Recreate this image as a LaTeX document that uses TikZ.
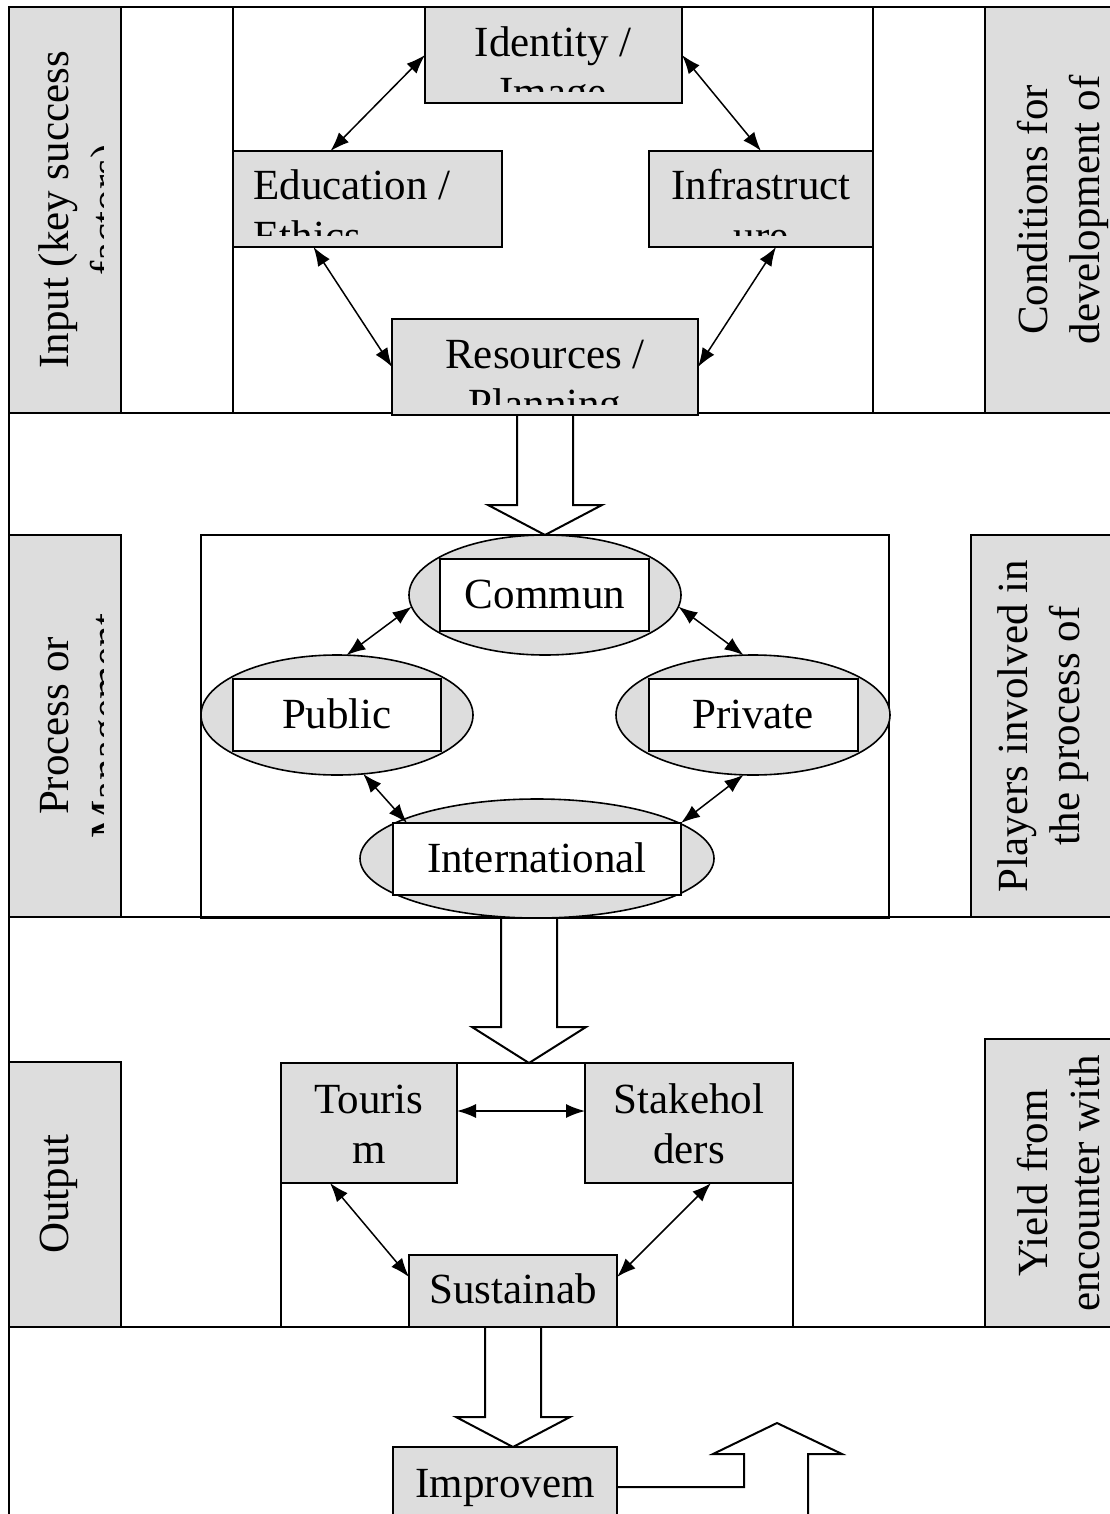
\documentclass[tikz,border=0pt]{standalone}
\usepackage{fontspec}
\setmainfont{Liberation Serif}
\usetikzlibrary{arrows.meta,shapes.geometric,fit}
\definecolor{boxgrey}{RGB}{221,221,221}
\newcommand{\twolines}[5]{
  \node[txt] (#1a) at (#2,#3) {#4};
  \node[txt] (#1b) at (#2,#3+50) {#5};
}
\newcommand{\sidelines}[5]{
  \node[txt, rotate=90] (#1a) at (#2,#3) {#4};
  \node[txt, rotate=90] (#1b) at (#2+52,#3) {#5};
}
\newcommand{\hollowdown}[4]{
  \draw[bigarrow] (#1-28,#2) -- (#1-28,#3) -- (#1-57,#3) -- (#1,#4)
    -- (#1+57,#3) -- (#1+28,#3) -- (#1+28,#2);
}

\begin{document}
\begin{tikzpicture}[x=0.5pt, y=-0.5pt,
  panel/.style={draw, line width=1pt},
  greybox/.style={draw, fill=boxgrey, line width=1pt, inner sep=0pt, outer sep=0pt},
  whitebox/.style={draw, fill=white, line width=1pt, inner sep=0pt, outer sep=0pt},
  blob/.style={ellipse, draw, fill=boxgrey, line width=0.8pt, inner sep=0pt, outer sep=0pt},
  txt/.style={anchor=base, inner sep=0pt, font=\fontsize{21.5}{26}\selectfont},
  link/.style={{Latex[length=9.5pt,width=7pt]}-{Latex[length=9.5pt,width=7pt]}, line width=0.75pt},
  bigarrow/.style={line width=1pt, line join=miter}]
  \useasboundingbox (0,0) rectangle (1109,1514);

  % frames
  \draw[panel] (1114,7) -- (9,7) -- (9,1520);
  \foreach \y in {413,917,1327}
    \draw[panel] (9,\y) -- (1114,\y);
  \draw[panel] (233,7) rectangle (873,413);
  \draw[panel] (201,535) rectangle (889,918);
  \draw[panel] (281,1327) -- (281,1063) -- (793,1063) -- (793,1327);

  % side labels
  \node[greybox, fit={(9,7) (121,413)}] (inbox) {};
  \node[greybox, fit={(9,535) (121,917)}] (procbox) {};
  \node[greybox, fit={(9,1062) (121,1327)}] (outbox) {};
  \node[greybox, fit={(985,7) (1114,413)}] (condbox) {};
  \node[greybox, fit={(971,535) (1114,917)}] (playbox) {};
  \node[greybox, fit={(985,1039) (1114,1327)}] (yieldbox) {};
  \begin{scope}
    \clip (0,0) rectangle (103,413);
    \sidelines{inp}{68}{210}{Input (key success}{factors)}
  \end{scope}
  \begin{scope}
    \clip (0,535) rectangle (103,917);
    \sidelines{proc}{68}{726}{Process or}{Management}
  \end{scope}
  \node[txt, rotate=90] (outtxt) at (68,1194) {Output};
  \sidelines{cond}{1047}{210}{Conditions for}{development of}
  \sidelines{play}{1027}{726}{Players involved in}{the process of}
  \sidelines{yield}{1047}{1183}{Yield from}{encounter with}

  % input
  \node[greybox, fit={(425,7) (682,103)}] (ident) {};
  \node[greybox, fit={(233,151) (502,247)}] (educ) {};
  \node[greybox, fit={(649,151) (873,247)}] (infra) {};
  \node[greybox, fit={(392,319) (698,415)}] (resrc) {};
  \begin{scope}
    \clip (425,7) rectangle (682,92);
    \twolines{ident}{553}{57}{Identity /}{Image}
  \end{scope}
  \begin{scope}
    \clip (233,151) rectangle (502,236);
    \node[txt, anchor=base west] (educa) at (253,200) {Education /};
    \node[txt, anchor=base west] (educb) at (253,250) {Ethics};
  \end{scope}
  \begin{scope}
    \clip (649,151) rectangle (873,236);
    \twolines{infra}{761}{200}{Infrastruct}{ure}
  \end{scope}
  \begin{scope}
    \clip (392,319) rectangle (698,404);
    \twolines{resrc}{545}{368}{Resources /}{Planning}
  \end{scope}
  \draw[link] (ident.west) -- ([xshift=-18.5pt]educ.north);
  \draw[link] (ident.east) -- (infra.north);
  \draw[link] ([xshift=-27pt]educ.south) -- (resrc.west);
  \draw[link] ([xshift=7.5pt]infra.south) -- (resrc.east);
  \hollowdown{545}{415}{505}{535}

  % players
  \node[blob, minimum width=136pt, minimum height=60pt] (commun) at (545,595) {};
  \node[blob, minimum width=136pt, minimum height=60pt] (public) at (337,715) {};
  \node[blob, minimum width=137pt, minimum height=60pt] (private) at (753,715) {};
  \node[blob, minimum width=177pt, minimum height=59.5pt] (intl) at (537,858.5) {};
  \node[whitebox, fit={(440,559) (649,631)}] (commbox) {};
  \node[whitebox, fit={(233,679) (441,751)}] (pubbox) {};
  \node[whitebox, fit={(649,679) (858,751)}] (privbox) {};
  \node[whitebox, fit={(393,823) (681,895)}] (intlbox) {};
  \node[txt] (commtxt) at (545,608) {Commun};
  \node[txt] (pubtxt) at (337,728) {Public};
  \node[txt] (privtxt) at (753,728) {Private};
  \node[txt] (intltxt) at (537,872) {International};
  \draw[link] (commun.185) -- (public.81);
  \draw[link] (commun.-5) -- (private.99);
  \draw[link] (public.-66) -- ([xshift=7pt]intlbox.north west);
  \draw[link] (private.-99) -- (intlbox.north east);
  \hollowdown{529}{918}{1027}{1063}

  % output
  \node[greybox, fit={(281,1063) (457,1183)}] (tour) {};
  \node[greybox, fit={(585,1063) (793,1183)}] (stake) {};
  \node[greybox, fit={(409,1255) (617,1327)}] (sust) {};
  \twolines{tour}{369}{1113}{Touris}{m}
  \twolines{stake}{689}{1113}{Stakehol}{ders}
  \node[txt] (susttxt) at (513,1303) {Sustainab};
  \draw[link] ([yshift=6pt]tour.east) -- ([yshift=6pt]stake.west);
  \draw[link] ([xshift=-19.5pt]tour.south) -- ([yshift=7pt]sust.west);
  \draw[link] ([xshift=11pt]stake.south) -- ([yshift=7pt]sust.east);
  \hollowdown{513}{1327}{1417}{1447}

  % feedback
  \node[greybox, fit={(393,1447) (617,1527)}] (improv) {};
  \node[txt] (improvtxt) at (505,1497) {Improvem};
  \draw[bigarrow] (improv.east) -- (744,1487) -- (744,1454) -- (713,1454)
    -- (777,1423) -- (842,1454) -- (808,1454) -- (808,1520);
\end{tikzpicture}
\end{document}
